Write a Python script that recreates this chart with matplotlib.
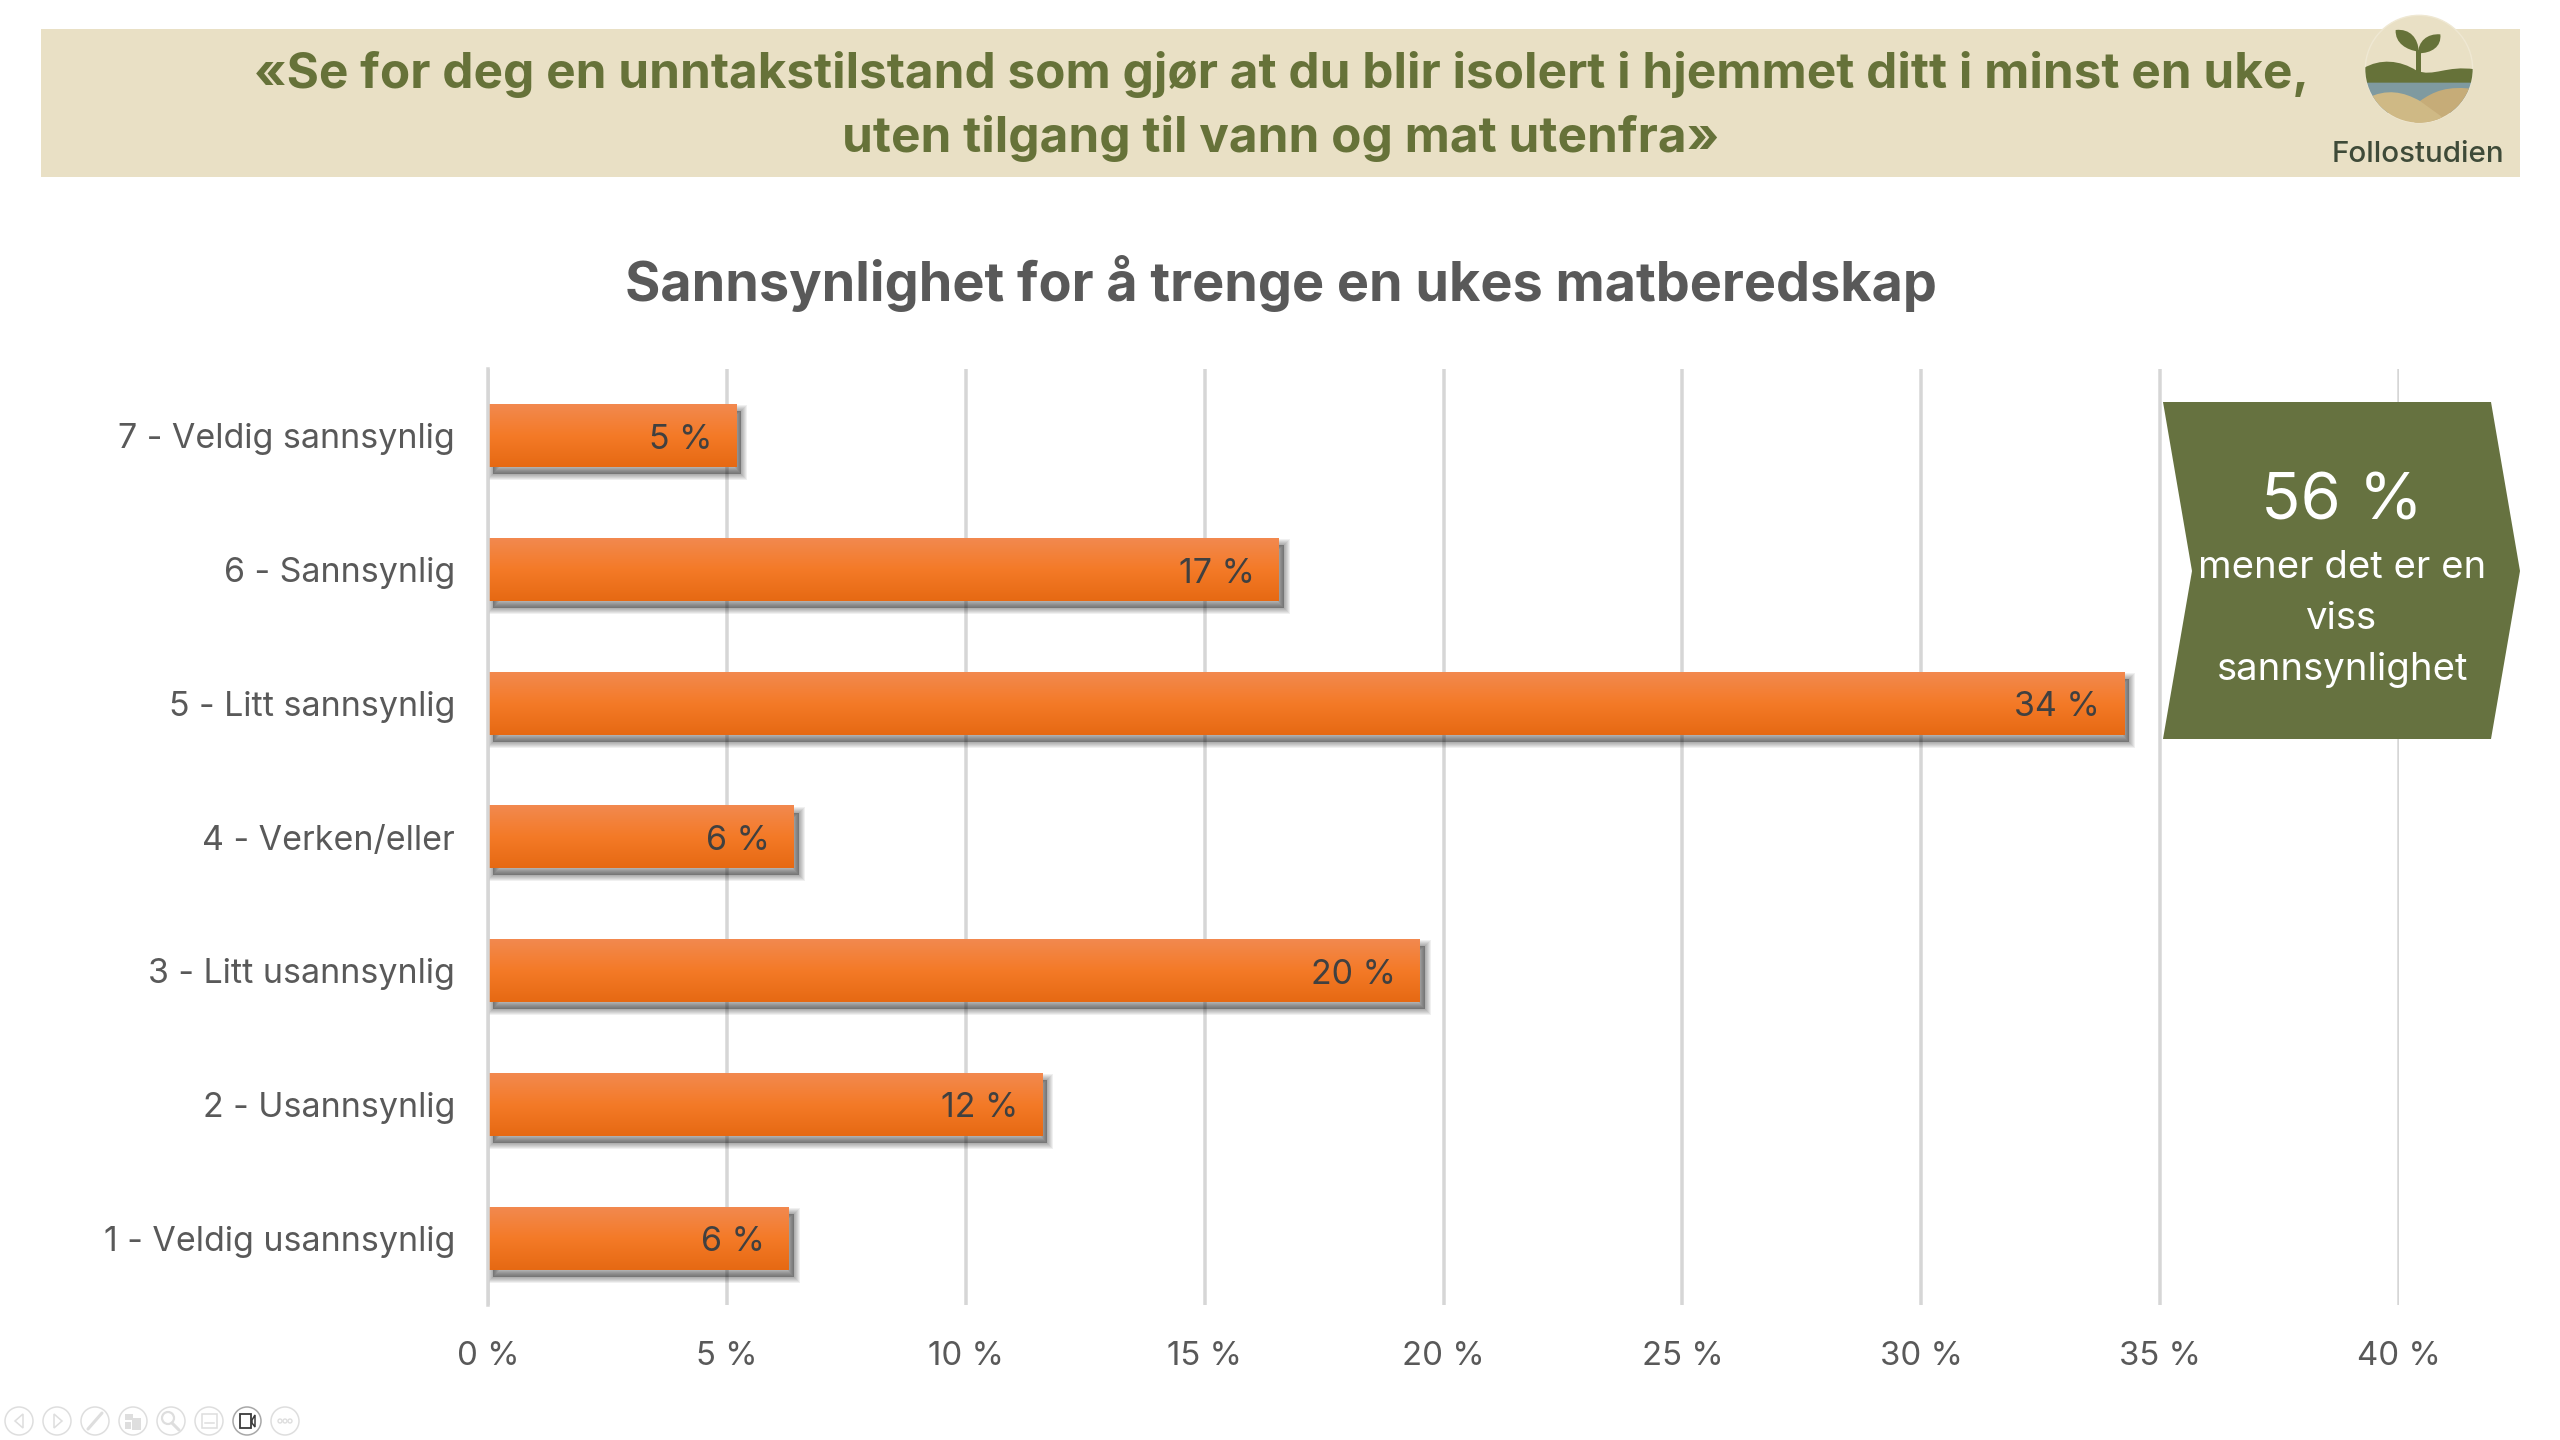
import numpy as np
import matplotlib
matplotlib.use("Agg")
import matplotlib.pyplot as plt
from matplotlib.patches import Polygon, Circle, PathPatch, Rectangle
from matplotlib.path import Path
from matplotlib.colors import LinearSegmentedColormap
from matplotlib.transforms import Affine2D

# ---- data ----
categories = ["1 - Veldig usannsynlig", "2 - Usannsynlig", "3 - Litt usannsynlig",
              "4 - Verken/eller", "5 - Litt sannsynlig", "6 - Sannsynlig", "7 - Veldig sannsynlig"]
values = [6.3, 11.6, 19.5, 6.4, 34.25, 16.55, 5.2]
xticks = [0, 5, 10, 15, 20, 25, 30, 35, 40]
title = "Sannsynlighet for å trenge en ukes matberedskap"
header = ["«Se for deg en unntakstilstand som gjør at du blir isolert i hjemmet ditt i minst en uke,",
          "uten tilgang til vann og mat utenfra»"]
callout_big = "56 %"
callout_lines = ["mener det er en", "viss", "sannsynlighet"]

FONT = "Inter"
GREEN = "#667239"
BEIGE = "#E9E0C5"
GREY = "#595959"
GRID = "#D6D6D6"
W, H = 2560, 1440
px = 0.72  # font points per pixel at dpi 100

fig = plt.figure(figsize=(W / 100, H / 100), dpi=100, facecolor="white")

# ---- main chart ----
L, R, T, B = 488, 2399, 369, 1305
ax = fig.add_axes([L / W, 1 - B / H, (R - L) / W, (B - T) / H])
y = np.arange(len(categories))
bar_h = 0.47
ax.set_facecolor("none")

# soft shadow, falling to the lower right only
for e in [12, 10, 8, 6, 4, 2]:
    ax.barh(y, values, height=bar_h, color="black", edgecolor="black", alpha=0.06,
            linewidth=e * px, zorder=2,
            transform=ax.transData + Affine2D().translate(5, -7))

bars = ax.barh(y, values, height=bar_h, color="#F47A27", zorder=3)

cmap = LinearSegmentedColormap.from_list("o", [(0, "#F2894F"), (0.5, "#F47A27"), (1, "#E66913")])
grad = np.linspace(0, 1, 128).reshape(-1, 1)
for b in bars:
    ax.imshow(grad, cmap=cmap, aspect="auto", zorder=3.5, interpolation="bilinear",
              extent=(b.get_x(), b.get_x() + b.get_width(),
                      b.get_y(), b.get_y() + b.get_height()))

for yi, v in zip(y, values):
    ax.annotate(f"{round(v)} %", xy=(v, yi), xytext=(-24 * px, -4 * px),
                textcoords="offset points", ha="right", va="center",
                fontsize=34 * px, color="#404040", family=FONT, zorder=5)

ax.set_xlim(0, 40)
ax.set_ylim(-0.5, len(categories) - 0.5)
ax.set_xticks(xticks)
ax.set_xticklabels([f"{t} %" for t in xticks], fontsize=33 * px, color=GREY, family=FONT)
ax.set_yticks(y)
ax.set_yticklabels(categories, fontsize=34 * px, color=GREY, family=FONT)
ax.tick_params(axis="x", length=0, pad=36 * px)
ax.tick_params(axis="y", length=0, pad=33 * px)
ax.grid(axis="x", color=GRID, linewidth=3.5 * px, zorder=1)
ax.set_axisbelow(True)
for s in ["top", "right", "bottom"]:
    ax.spines[s].set_visible(False)
ax.spines["left"].set_color(GRID)
ax.spines["left"].set_linewidth(3.5 * px)
ax.spines["left"].set_zorder(6)

# ---- overlay in pixel coordinates ----
ov = fig.add_axes([0, 0, 1, 1], facecolor="none")
ov.set_xlim(0, W)
ov.set_ylim(H, 0)
ov.axis("off")

# header band
ov.add_patch(Rectangle((41, 29), 2479, 148, color=BEIGE, lw=0))
ov.text(1281, 75, header[0], ha="center", va="center", fontsize=49.5 * px, fontweight="bold",
        color=GREEN, family=FONT)
ov.text(1281, 139, header[1], ha="center", va="center", fontsize=49.5 * px, fontweight="bold",
        color=GREEN, family=FONT)

# title
ov.text(1281, 283, title, ha="center", va="center", fontsize=54 * px, fontweight="bold",
        color=GREY, family=FONT)

# callout
ov.add_patch(Polygon([(2163, 402), (2491, 402), (2520, 571), (2491, 739), (2163, 739), (2192, 571)],
                     closed=True, facecolor="#667240", edgecolor="none"))
ov.text(2342, 502, callout_big, ha="center", va="center", color="white", fontsize=65 * px, family=FONT)
for t, yy in zip(callout_lines, [568, 619, 670]):
    ov.text(2342, yy, t, ha="center", va="center", color="white", fontsize=38.3 * px, family=FONT)


# logo (coordinates from a 3x crop whose origin is x=2200)
def P(x, y):
    return (2200 + x / 3, y / 3)


def curve(points, codes):
    return Path([P(*p) for p in points], codes)


circle = Circle(P(657, 207), 161 / 3, facecolor=BEIGE, edgecolor="#EFE8D3", lw=1, zorder=2)
ov.add_patch(circle)
M, C4, LN, CL = Path.MOVETO, Path.CURVE4, Path.LINETO, Path.CLOSEPOLY
ground = curve([(490, 205), (540, 175), (600, 180), (650, 212), (700, 232), (740, 195), (825, 208),
                (825, 248), (490, 248), (490, 205)],
               [M, C4, C4, C4, C4, C4, C4, LN, LN, CL])
water = curve([(490, 247), (825, 247), (825, 340), (490, 340), (490, 247)], [M, LN, LN, LN, CL])
hill2 = curve([(660, 303), (700, 275), (740, 255), (830, 268), (830, 380), (640, 380), (660, 303)],
              [M, C4, C4, C4, LN, LN, CL])
hill1 = curve([(500, 295), (560, 265), (610, 275), (660, 303), (725, 350), (725, 380), (500, 380), (500, 295)],
              [M, C4, C4, C4, LN, LN, LN, CL])
for path, col in [(water, "#7F9AA0"), (hill2, "#C6AC78"), (hill1, "#CFB985"), (ground, "#667239")]:
    p = PathPatch(path, facecolor=col, edgecolor="none", zorder=3)
    ov.add_patch(p)
    p.set_clip_path(circle)
leaf_l = curve([(587, 90), (630, 85), (655, 115), (656, 155), (620, 150), (585, 130), (587, 90), (587, 90)],
               [M, C4, C4, C4, C4, C4, C4, CL])
leaf_r = curve([(721, 103), (680, 100), (655, 125), (654, 160), (695, 160), (725, 140), (721, 103), (721, 103)],
               [M, C4, C4, C4, C4, C4, C4, CL])
stem = curve([(649, 150), (662, 150), (662, 220), (649, 220), (649, 150)], [M, LN, LN, LN, CL])
for path in (leaf_l, leaf_r, stem):
    ov.add_patch(PathPatch(path, facecolor="#667239", edgecolor="none", zorder=4))
ov.text(2418, 154, "Follostudien", ha="center", va="center", fontsize=29.5 * px, fontweight="medium",
        color="#3E4A38", family=FONT, zorder=5)

# slideshow toolbar icons
ICON = "#DEDEDE"
centers = [19, 57, 95, 133, 171, 209, 247, 285]
cy = 1421
for i, cx in enumerate(centers):
    dark = i == 6
    ov.add_patch(Circle((cx, cy), 14, facecolor="white", edgecolor="#A8A8A8" if dark else ICON, lw=1.1))
ov.add_patch(Polygon([(23, 1414), (15, 1421), (23, 1428)], closed=True, fill=False, edgecolor=ICON, lw=1.1))
ov.add_patch(Polygon([(54, 1414), (62, 1421), (54, 1428)], closed=True, fill=False, edgecolor=ICON, lw=1.1))
ov.plot([88, 102], [1429, 1413], color=ICON, lw=2.2, solid_capstyle="round")
ov.add_patch(Rectangle((125, 1414), 8, 6, color=ICON, lw=0))
ov.add_patch(Rectangle((125, 1422), 6, 7, color=ICON, lw=0))
ov.add_patch(Rectangle((132, 1418), 9, 12, color=ICON, lw=0))
ov.add_patch(Circle((168, 1418), 6, fill=False, edgecolor=ICON, lw=1.6))
ov.plot([172, 179], [1423, 1430], color=ICON, lw=2.2, solid_capstyle="round")
ov.add_patch(Rectangle((202, 1414), 15, 14, fill=False, edgecolor=ICON, lw=1.1))
ov.plot([205, 214], [1423, 1423], color=ICON, lw=1.1)
ov.add_patch(Rectangle((240, 1414), 11, 14, fill=False, edgecolor="#3A3A3A", lw=1.3))
ov.add_patch(Polygon([(252, 1420), (255, 1415), (255, 1427), (252, 1423)], closed=True,
                     fill=False, edgecolor="#3A3A3A", lw=1.1))
for dx in (-5, 0, 5):
    ov.add_patch(Circle((285 + dx, cy), 2, fill=False, edgecolor=ICON, lw=1))

fig.savefig("out.png", dpi=100, facecolor="white")
